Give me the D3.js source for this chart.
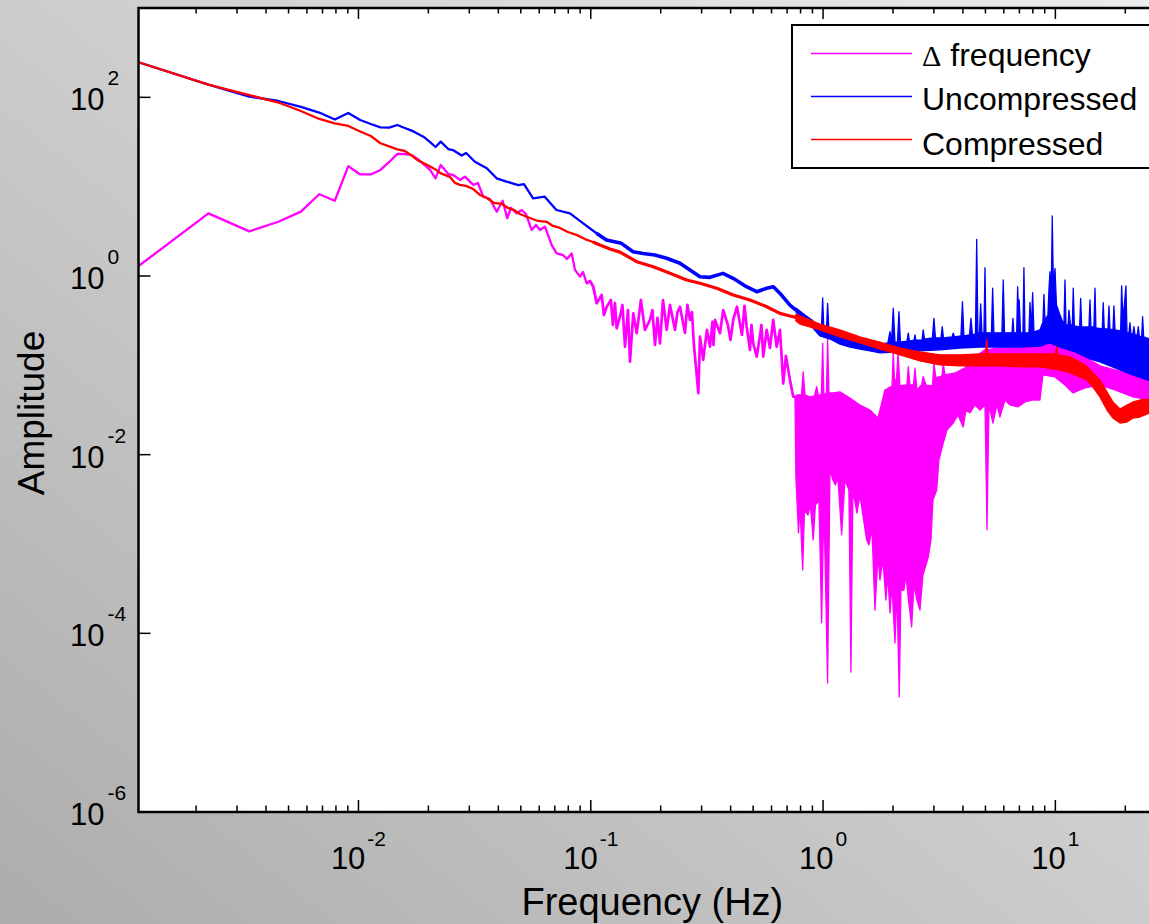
<!DOCTYPE html>
<html>
<head>
<meta charset="utf-8">
<script src="https://cdn.jsdelivr.net/npm/d3@7"></script>
<style>
  html, body { margin: 0; padding: 0; overflow: hidden; background: #c8c8c8; }
  svg { display: block; font-family: "Liberation Sans", Arial, sans-serif; }
</style>
</head>
<body>
<svg id="chart" width="1149" height="924"></svg>
<script>
// ---- series: low-frequency part (line) ----
var deltaFreq = [0.00113, 0.00226, 0.00339, 0.00452, 0.00565, 0.00678, 0.00791, 0.00904, 0.01017, 0.0113,
  0.01243, 0.01356, 0.01469, 0.01582, 0.01695, 0.01808, 0.01921, 0.02034, 0.02147, 0.0226,
  0.02436, 0.02559, 0.02735, 0.02874, 0.0312, 0.03267, 0.03444, 0.03682, 0.03937, 0.04176,
  0.0437, 0.04534, 0.04798, 0.05041, 0.0526, 0.05567, 0.05808, 0.06044, 0.06352, 0.06788,
  0.07134, 0.07612, 0.079, 0.08276, 0.08552, 0.08985, 0.09255, 0.09605, 0.09921, 0.1025,
  0.1061, 0.1114, 0.1139, 0.1171, 0.1221, 0.1245, 0.1271, 0.1293, 0.1336, 0.1369,
  0.1404, 0.1446, 0.1475, 0.1524, 0.1577, 0.1644, 0.1711, 0.1798, 0.1843, 0.189,
  0.1937, 0.1986, 0.2046, 0.2123, 0.2193, 0.2305, 0.2362, 0.2421, 0.2544, 0.2607,
  0.2673, 0.2726, 0.278, 0.2905, 0.2952, 0.3049, 0.3103, 0.3164, 0.326, 0.3342,
  0.3374, 0.3426, 0.3599, 0.3718, 0.3894, 0.3994, 0.4105, 0.426, 0.4476, 0.459,
  0.469, 0.4845, 0.4918, 0.5005, 0.518, 0.535, 0.543, 0.5527, 0.572, 0.5907,
  0.6102, 0.6315, 0.6523, 0.6738, 0.6921, 0.7202, 0.744, 0.757];
var deltaAmp = [1.29, 5.03, 3.16, 4.05, 5.25, 8.22, 6.96, 17.0, 13.7, 13.7,
  15.4, 18.9, 23.2, 23.2, 22.6, 20.2, 17.5, 15.4, 12.4, 17.5,
  13.9, 13.5, 11.9, 12.95, 10.46, 11.0, 7.72, 7.28, 5.24, 6.97,
  4.43, 5.78, 5.03, 5.48, 4.94, 3.27, 3.73, 3.27, 3.57, 2.22,
  1.79, 1.71, 1.55, 1.79, 1.17, 0.984, 1.11, 0.828, 0.879, 0.759,
  0.495, 0.613, 0.366, 0.453, 0.539, 0.283, 0.499, 0.26, 0.35, 0.474,
  0.1615, 0.416, 0.11, 0.382, 0.2286, 0.539, 0.249, 0.322, 0.416, 0.169,
  0.339, 0.176, 0.539, 0.249, 0.474, 0.249, 0.395, 0.453, 0.2306, 0.474,
  0.322, 0.395, 0.169, 0.0487, 0.2094, 0.115, 0.169, 0.249, 0.1615, 0.306,
  0.169, 0.322, 0.2286, 0.416, 0.283, 0.192, 0.322, 0.453, 0.219, 0.462,
  0.271, 0.149, 0.283, 0.1778, 0.1253, 0.2134, 0.283, 0.1253, 0.249, 0.1563,
  0.322, 0.1615, 0.249, 0.0629, 0.1277, 0.0685, 0.0446, 0.0446];

var uncompFreq = [0.00113, 0.00226, 0.00339, 0.00452, 0.00565, 0.00678, 0.00791, 0.00904, 0.01017, 0.0113,
  0.01243, 0.01356, 0.01469, 0.01582, 0.01695, 0.01808, 0.01921, 0.02034, 0.02147, 0.0226,
  0.02434, 0.0255, 0.0278, 0.02907, 0.03172, 0.03567, 0.03934, 0.04338, 0.04874, 0.05157,
  0.05646, 0.06336, 0.07115, 0.08137, 0.0928, 0.1058, 0.1168, 0.1355, 0.1521, 0.168,
  0.1888, 0.2121, 0.2421, 0.2673, 0.2952, 0.326, 0.371, 0.41, 0.468, 0.5178,
  0.572, 0.611, 0.6625, 0.7202, 0.764];
var uncompAmp = [247, 139, 102, 91, 78, 67.6, 56.5, 66.8, 55.7, 50.3,
  46.2, 45.9, 49.0, 45.4, 42.4, 38.9, 35.7, 31.6, 27.8, 31.9,
  26.4, 25.7, 22.3, 23.8, 19.0, 16.1, 12.4, 11.4, 10.4, 10.7,
  7.41, 7.72, 5.48, 5.03, 3.89, 3.01, 2.53, 2.32, 1.87, 1.79,
  1.72, 1.58, 1.39, 1.17, 0.982, 0.966, 1.07, 0.943, 0.759, 0.667,
  0.728, 0.759, 0.612, 0.473, 0.416];

var compFreq = [0.00113, 0.00226, 0.00339, 0.00452, 0.00565, 0.00678, 0.00791, 0.00904, 0.01017, 0.0113,
  0.01243, 0.01356, 0.01469, 0.01582, 0.01695, 0.01808, 0.01921, 0.02034, 0.02147, 0.0226,
  0.02477, 0.02603, 0.02735, 0.02902, 0.0311, 0.03334, 0.03574, 0.03829, 0.04147, 0.044,
  0.04669, 0.04957, 0.05474, 0.05923, 0.06479, 0.06874, 0.07369, 0.07973, 0.08723, 0.09443,
  0.1022, 0.1095, 0.1209, 0.1336, 0.1577, 0.1857, 0.2193, 0.2588, 0.2952, 0.3485,
  0.4105, 0.4845, 0.572, 0.6523, 0.7202, 0.764];
var compAmp = [247, 139, 106, 87.5, 70.3, 57.3, 51.0, 47.8, 41.5, 36.9,
  30.6, 28.2, 26.1, 25.1, 22.3, 19.6, 18.2, 16.8, 15.6, 14.1,
  12.86, 11.02, 10.46, 10.2, 9.44, 8.07, 7.47, 6.57, 6.4, 5.78,
  5.48, 4.94, 4.46, 4.13, 4.03, 3.63, 3.45, 3.11, 2.87, 2.59,
  2.4, 2.22, 2.01, 1.85, 1.445, 1.27, 1.075, 0.902, 0.829, 0.729,
  0.613, 0.539, 0.453, 0.382, 0.357, 0.344];

// ---- series: high-frequency part, dense band (upper / lower edge) ----
var deltaTopFreq = [0.757, 0.772, 0.807, 0.821, 0.836, 0.878, 0.918, 0.939, 0.955, 0.984,
  0.996, 1.008, 1.034, 1.046, 1.06, 1.103, 1.182, 1.305, 1.441, 1.592,
  1.723, 1.847, 1.941, 1.98, 2.005, 2.03, 2.069, 2.104, 2.143, 2.252,
  2.297, 2.327, 2.366, 2.449, 2.487, 2.536, 2.652, 2.699, 2.772, 2.957,
  3.0, 3.061, 3.25, 3.291, 3.349, 3.697, 4.082, 4.508, 4.978, 5.774,
  7.04, 8.584, 9.478, 10.06, 11.0, 12.39, 14.09, 15.56, 18.06, 20.34,
  23.13, 25.54, 29.9];
var deltaTopAmp = [0.0446, 0.0466, 0.0466, 0.0849, 0.0466, 0.0443, 0.0454, 0.0576, 0.0454, 0.0478,
  0.1765, 0.0478, 0.0478, 0.201, 0.0491, 0.0491, 0.0504, 0.0431, 0.036, 0.0316,
  0.0257, 0.053, 0.0572, 0.0572, 0.1426, 0.0685, 0.0685, 0.137, 0.0587, 0.0602,
  0.0602, 0.0967, 0.0602, 0.0602, 0.0929, 0.053, 0.0602, 0.0746, 0.0602, 0.0587,
  0.1057, 0.0722, 0.076, 0.1057, 0.078, 0.0821, 0.0936, 0.1244, 0.149, 0.1563,
  0.1563, 0.1824, 0.2027, 0.2134, 0.1824, 0.1416, 0.115, 0.0986, 0.0887, 0.0821,
  0.0741, 0.0685, 0.0618];
var deltaBotFreq = [0.757, 0.764, 0.772, 0.784, 0.795, 0.817, 0.832, 0.861, 0.882, 0.907,
  0.927, 0.96, 0.986, 1.008, 1.046, 1.071, 1.103, 1.129, 1.159, 1.202,
  1.242, 1.292, 1.318, 1.344, 1.399, 1.441, 1.54, 1.575, 1.624, 1.673,
  1.723, 1.757, 1.81, 1.864, 1.901, 1.941, 1.98, 2.04, 2.081, 2.128,
  2.164, 2.229, 2.274, 2.332, 2.406, 2.461, 2.536, 2.613, 2.691, 2.772,
  2.838, 2.914, 2.972, 3.084, 3.153, 3.291, 3.415, 3.634, 3.807, 4.012,
  4.121, 4.289, 4.508, 4.736, 4.978, 5.077, 5.176, 5.386, 5.605, 5.774,
  6.068, 6.376, 6.899, 7.399, 7.929, 8.584, 8.842, 9.961, 11.0, 11.91,
  13.41, 15.56, 18.06, 21.58, 25.54, 29.9];
var deltaBotAmp = [0.0446, 0.00548, 0.0031, 0.00133, 0.00273, 5.12e-4, 0.0024, 0.00211, 0.00273, 0.00111,
  0.00273, 0.0031, 1.31e-4, 0.0031, 2.78e-5, 0.00673, 0.0052, 0.00457, 0.00548, 0.00127,
  0.0052, 0.00402, 3.69e-5, 0.00402, 0.00222, 0.00353, 0.00111, 9.76e-4, 0.00144, 1.82e-4,
  7.53e-4, 3.95e-4, 6.62e-4, 2.36e-4, 4.5e-4, 1.69e-4, 3.47e-4, 7.79e-5, 3.05e-4, 1.94e-5,
  3.05e-4, 3.05e-4, 4.5e-4, 2.36e-4, 1.18e-4, 3.47e-4, 2.36e-4, 1.82e-4, 4.5e-4, 5.82e-4,
  7.16e-4, 0.00111, 0.0031, 0.00402, 0.00871, 0.0135, 0.0189, 0.0226, 0.0278, 0.0204,
  0.0316, 0.0293, 0.036, 0.0316, 0.036, 0.00144, 0.036, 0.0226, 0.036, 0.0264,
  0.0409, 0.036, 0.0342, 0.0389, 0.0409, 0.0409, 0.078, 0.0741, 0.0602, 0.0491,
  0.0558, 0.0602, 0.053, 0.0443, 0.0409, 0.0389];

var uncompTopFreq = [0.764, 0.836, 0.896, 0.95, 0.984, 0.996, 1.008, 1.034, 1.046, 1.06,
  1.182, 1.305, 1.441, 1.592, 1.757, 1.901, 1.941, 1.97, 2.005, 2.04,
  2.09, 2.122, 2.154, 2.297, 2.327, 2.355, 2.461, 2.487, 2.51, 2.665,
  2.699, 2.733, 2.957, 3.0, 3.047, 3.218, 3.259, 3.298, 3.588, 3.634,
  3.68, 3.923, 3.981, 4.039, 4.268, 4.332, 4.396, 4.529, 4.585, 4.641,
  4.714, 4.769, 4.831, 4.925, 4.978, 5.025, 5.307, 5.37, 5.438, 5.889,
  5.965, 6.04, 6.504, 6.567, 6.631, 6.816, 6.88, 6.937, 6.988, 7.075,
  7.251, 7.322, 7.399, 7.695, 7.774, 7.875, 7.984, 8.085, 8.584, 8.842,
  8.927, 9.022, 9.288, 9.382, 9.478, 9.592, 9.696, 9.81, 9.961, 10.11,
  10.47, 10.89, 11.0, 11.11, 11.34, 11.44, 11.62, 11.83, 11.94, 12.07,
  12.72, 12.85, 12.98, 13.95, 14.09, 14.23, 14.65, 14.81, 14.95, 15.92,
  16.07, 16.24, 16.84, 17.01, 17.18, 17.7, 17.87, 18.06, 19.1, 19.29,
  19.54, 20.13, 20.34, 20.73, 20.95, 21.16, 21.58, 21.79, 22.02, 22.52,
  22.75, 22.98, 23.52, 23.75, 23.99, 25.54, 29.9];
var uncompTopAmp = [0.439, 0.366, 0.322, 0.276, 0.262, 0.567, 0.249, 0.243, 0.495, 0.237,
  0.213, 0.197, 0.182, 0.178, 0.173, 0.178, 0.238, 0.178, 0.4355, 0.182,
  0.182, 0.398, 0.182, 0.187, 0.229, 0.187, 0.192, 0.219, 0.192, 0.192,
  0.249, 0.197, 0.203, 0.336, 0.203, 0.203, 0.271, 0.203, 0.208, 0.229,
  0.208, 0.213, 0.516, 0.213, 0.219, 0.336, 0.219, 0.225, 2.57, 0.225,
  0.231, 0.486, 0.231, 0.231, 1.238, 0.231, 0.231, 0.729, 0.231, 0.231,
  0.902, 0.231, 0.231, 0.336, 0.231, 0.231, 0.759, 0.416, 0.539, 0.231,
  0.231, 1.238, 0.231, 0.231, 0.508, 0.249, 0.65, 0.237, 0.249, 0.306,
  0.624, 0.322, 0.366, 0.697, 1.12, 0.539, 4.7, 0.697, 1.214, 0.474,
  0.366, 0.283, 0.902, 0.283, 0.283, 0.416, 0.283, 0.283, 0.729, 0.276,
  0.269, 0.563, 0.269, 0.269, 0.539, 0.269, 0.269, 0.729, 0.262, 0.255,
  0.503, 0.255, 0.255, 0.462, 0.255, 0.249, 0.462, 0.249, 0.243, 0.773,
  0.322, 0.773, 0.231, 0.231, 0.3, 0.225, 0.225, 0.271, 0.219, 0.219,
  0.271, 0.213, 0.208, 0.35, 0.208, 0.197, 0.182];
var uncompBotFreq = [0.764, 0.836, 0.896, 0.9696, 1.071, 1.182, 1.305, 1.441, 1.592, 1.757,
  2.143, 2.613, 3.186, 3.884, 4.736, 5.774, 7.04, 8.584, 9.478, 10.47,
  12.15, 14.09, 15.56, 18.06, 20.95, 25.54, 29.9];
var uncompBotAmp = [0.395, 0.322, 0.269, 0.213, 0.197, 0.173, 0.16, 0.152, 0.145, 0.138,
  0.1416, 0.145, 0.149, 0.1563, 0.16, 0.16, 0.16, 0.1645, 0.178, 0.16,
  0.1416, 0.118, 0.109, 0.0936, 0.08, 0.0668, 0.0602];

var compTopFreq = [0.764, 0.7952, 0.9696, 1.182, 1.441, 1.757, 2.143, 2.613, 3.186, 3.884,
  4.736, 5.001, 5.063, 5.124, 5.774, 7.04, 8.584, 10.01, 10.13, 10.26,
  11.56, 12.76, 13.68, 14.51, 15.56, 16.68, 17.7, 18.97, 20.34, 21.58,
  23.13, 25.54, 29.9];
var compTopAmp = [0.375, 0.357, 0.29, 0.249, 0.208, 0.182, 0.156, 0.1416, 0.131, 0.131,
  0.134, 0.134, 0.196, 0.134, 0.134, 0.134, 0.134, 0.134, 0.1615, 0.131,
  0.1244, 0.109, 0.0973, 0.0821, 0.0685, 0.0504, 0.0389, 0.0324, 0.036, 0.0389,
  0.0409, 0.042, 0.0431];
var compBotFreq = [0.764, 0.7952, 0.9696, 1.182, 1.441, 1.757, 2.143, 2.613, 3.186, 3.884,
  4.736, 5.774, 7.04, 8.584, 10.47, 11.56, 12.76, 13.68, 14.51, 15.56,
  16.68, 17.7, 18.97, 20.34, 21.58, 23.13, 25.54, 29.9];
var compBotAmp = [0.314, 0.29, 0.249, 0.208, 0.178, 0.152, 0.131, 0.112, 0.101, 0.0986,
  0.0986, 0.0986, 0.096, 0.096, 0.0887, 0.0821, 0.0741, 0.0685, 0.0572, 0.0443,
  0.0316, 0.0257, 0.0226, 0.0232, 0.0257, 0.0264, 0.0293, 0.0316];

// ---- axes / legend text ----
var xMajorTicks = [0.01, 0.1, 1, 10];
var xMajorExp = ["-2", "-1", "0", "1"];
var yMajorTicks = [1e-6, 1e-4, 1e-2, 1, 100];
var yMajorExp = ["-6", "-4", "-2", "0", "2"];
var legendNames = ["frequency", "Uncompressed", "Compressed"];
var seriesColors = ["#ff00ff", "#0000ff", "#ff0000"];
// line width below / above 0.1 Hz (the spectrum gets noisier, so it reads thicker)
var lowWidth = [2.3, 2.3, 2.3];
var midWidth = [2.7, 3.6, 3.2];

var plotL = 138.5, plotR = 1166.2, plotT = 8, plotB = 812;

var svg = d3.select("#chart");
var defs = svg.append("defs");

// grey gradient page background
var grad = defs.append("linearGradient")
    .attr("id", "bg")
    .attr("x1", 1).attr("y1", 0).attr("x2", 0).attr("y2", 1);
grad.append("stop").attr("offset", 0).attr("stop-color", "#ececec");
grad.append("stop").attr("offset", 1).attr("stop-color", "#acacac");
svg.append("rect")
    .attr("width", 1149).attr("height", 924)
    .attr("fill", "url(#bg)");

var xScale = d3.scaleLog().domain([0.00113, 30]).range([plotL, plotR]);
var yScale = d3.scaleLog().domain([1e-6, 1e3]).range([plotB, plotT]);

defs.append("clipPath").attr("id", "plotClip")
  .append("rect")
    .attr("x", plotL).attr("y", plotT)
    .attr("width", plotR - plotL).attr("height", plotB - plotT);

svg.append("rect")
    .attr("x", plotL).attr("y", plotT)
    .attr("width", plotR - plotL).attr("height", plotB - plotT)
    .attr("fill", "#ffffff");

var plot = svg.append("g").attr("clip-path", "url(#plotClip)");

var line = d3.line()
    .x(function(d) { return xScale(d[0]); })
    .y(function(d) { return yScale(d[1]); });

function pairs(f, a) {
  return f.map(function(v, i) { return [v, a[i]]; });
}

function drawSeries(i, f, a, tf, ta, bf, ba) {
  var color = seriesColors[i];
  // dense band: upper edge left to right, lower edge back
  var band = pairs(tf, ta).concat(pairs(bf, ba).reverse());
  plot.append("path")
      .attr("d", line(band) + "Z")
      .attr("fill", color)
      .attr("stroke", color)
      .attr("stroke-width", 1.3)
      .attr("stroke-linejoin", "round");

  var pts = pairs(f, a);
  plot.append("path")
      .attr("d", line(pts.filter(function(d) { return d[0] <= 0.11; })))
      .attr("fill", "none")
      .attr("stroke", color)
      .attr("stroke-width", lowWidth[i])
      .attr("stroke-linejoin", "round");
  plot.append("path")
      .attr("d", line(pts.filter(function(d) { return d[0] >= 0.095; })))
      .attr("fill", "none")
      .attr("stroke", color)
      .attr("stroke-width", midWidth[i])
      .attr("stroke-linejoin", "round");
}

drawSeries(0, deltaFreq, deltaAmp, deltaTopFreq, deltaTopAmp, deltaBotFreq, deltaBotAmp);
drawSeries(1, uncompFreq, uncompAmp, uncompTopFreq, uncompTopAmp, uncompBotFreq, uncompBotAmp);
drawSeries(2, compFreq, compAmp, compTopFreq, compTopAmp, compBotFreq, compBotAmp);

// ---- axes ----
var axes = svg.append("g");

var xTicks = xScale.ticks().filter(function(t) { return t >= 0.00113 && t <= 30; });
xTicks.forEach(function(t) {
  var major = Math.abs(Math.log10(t) - Math.round(Math.log10(t))) < 1e-6;
  var len = major ? 12 : 6.5;
  var x = xScale(t);
  axes.append("line")
      .attr("x1", x).attr("x2", x)
      .attr("y1", plotB).attr("y2", plotB - len)
      .attr("stroke", "#000").attr("stroke-width", 1.5);
  axes.append("line")
      .attr("x1", x).attr("x2", x)
      .attr("y1", plotT).attr("y2", plotT + len - 1)
      .attr("stroke", "#000").attr("stroke-width", 1.5);
});

yMajorTicks.forEach(function(t) {
  var y = yScale(t);
  axes.append("line")
      .attr("x1", plotL).attr("x2", plotL + 12)
      .attr("y1", y).attr("y2", y)
      .attr("stroke", "#000").attr("stroke-width", 1.5);
  axes.append("line")
      .attr("x1", plotR).attr("x2", plotR - 12)
      .attr("y1", y).attr("y2", y)
      .attr("stroke", "#000").attr("stroke-width", 1.5);
});

axes.append("rect")
    .attr("x", plotL).attr("y", plotT)
    .attr("width", plotR - plotL).attr("height", plotB - plotT)
    .attr("fill", "none")
    .attr("stroke", "#000").attr("stroke-width", 2.5);

// tick labels: 10 with superscript exponent
xMajorTicks.forEach(function(t, i) {
  var txt = axes.append("text")
      .attr("x", xScale(t))
      .attr("y", 869)
      .attr("text-anchor", "middle")
      .style("font-size", "31px")
      .attr("fill", "#000");
  txt.append("tspan").text("10");
  txt.append("tspan")
      .attr("dx", 2).attr("dy", -23)
      .style("font-size", "21px")
      .text(xMajorExp[i]);
});

yMajorTicks.forEach(function(t, i) {
  var y = yScale(t);
  var txt = axes.append("text")
      .attr("x", 70)
      .attr("y", y + 13)
      .attr("text-anchor", "start")
      .style("font-size", "31px")
      .attr("fill", "#000");
  txt.append("tspan").text("10");
  txt.append("tspan")
      .attr("dx", 3).attr("dy", -25)
      .style("font-size", "21px")
      .text(yMajorExp[i]);
});

// axis titles
svg.append("text")
    .attr("x", (plotL + plotR) / 2)
    .attr("y", 915)
    .attr("text-anchor", "middle")
    .style("font-size", "38px")
    .text("Frequency (Hz)");

svg.append("text")
    .attr("transform", "translate(44," + ((plotT + plotB) / 2 + 3) + ")rotate(-90)")
    .attr("text-anchor", "middle")
    .style("font-size", "37px")
    .text("Amplitude");

// ---- legend ----
var legend = svg.append("g");
legend.append("rect")
    .attr("x", 792).attr("y", 25)
    .attr("width", 366).attr("height", 143)
    .attr("fill", "#ffffff")
    .attr("stroke", "#000").attr("stroke-width", 2);

legendNames.forEach(function(name, i) {
  var ly = 53.5 + i * 43;
  legend.append("line")
      .attr("x1", 811).attr("x2", 912)
      .attr("y1", ly).attr("y2", ly)
      .attr("stroke", seriesColors[i]).attr("stroke-width", 1.6);
  var txt = legend.append("text")
      .attr("x", 922)
      .attr("y", ly + 12 + i * 1.8)
      .style("font-size", "32px")
      .attr("fill", "#000");
  if (i === 0) {
    txt.append("tspan")
        .style("font-family", "'Liberation Serif', 'Times New Roman', serif")
        .style("font-size", "30px")
        .text("\u0394");
    txt.append("tspan").attr("dx", 9).text(name);
  } else {
    txt.text(name);
  }
});
</script>
</body>
</html>
